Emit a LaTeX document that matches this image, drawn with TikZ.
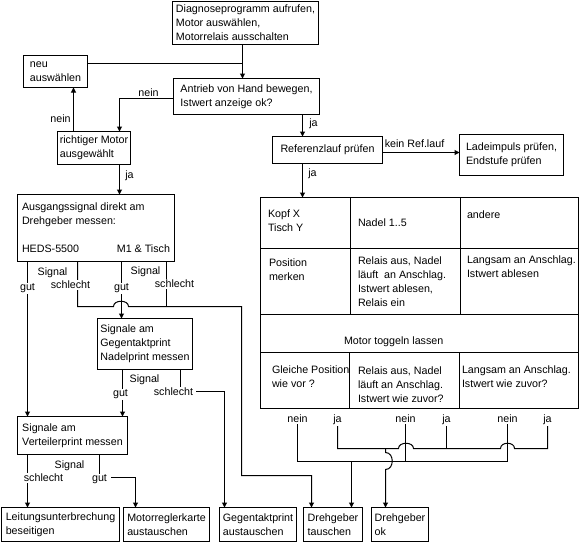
\documentclass[tikz,border=0pt]{standalone}
\usepackage{fontspec}
\setmainfont{Liberation Sans}
\usetikzlibrary{arrows.meta}
\newcommand\ff{\fontsize{10.7}{14}\selectfont}
\newcommand\mkbox[6]{%
  \pgfmathsetmacro\bxw{#4-#2}\pgfmathsetmacro\bxh{#5-#3}%
  \node[box, minimum width=\bxw pt, minimum height=\bxh pt] (#1) at (#2,#3) {#6};}
\tikzset{
  box/.style={draw, align=left, inner sep=0pt, outer sep=0pt, anchor=north west, font=\ff},
  ttxt/.style={align=left, inner sep=0pt, anchor=north west, font=\ff},
  lbl/.style={font=\ff, inner sep=1pt, fill=white, anchor=base},
  arr/.style={-{Triangle[width=5pt,length=5pt]}}
}
\begin{document}
\begin{tikzpicture}[x=1pt,y=-1pt,line width=1pt]
\fill[white] (-0.5,-0.5) rectangle (579.5,542.5);
\useasboundingbox (-0.5,-0.5) rectangle (579.5,542.5);

% boxes
\mkbox{top}{172}{1}{318}{44}{Diagnoseprogramm aufrufen,\\Motor auswählen,\\Motorrelais ausschalten}
\mkbox{neu}{23}{55}{87}{87}{neu\\auswählen}
\mkbox{antrieb}{173}{78}{319}{114}{Antrieb von Hand bewegen,\\Istwert anzeige ok?}
\mkbox{richtig}{57}{131}{130}{164}{richtiger Motor\\ausgewählt}
\mkbox{ausg}{17}{194}{174}{261}{Ausgangssignal direkt am\\Drehgeber messen:\\[14pt]\makebox[148pt]{HEDS-5500\hfill M1 \& Tisch}}
\mkbox{ref}{272}{136}{382}{163}{Referenzlauf prüfen}
\mkbox{lad}{459}{134}{563}{175}{Ladeimpuls prüfen,\\Endstufe prüfen}
\mkbox{gsig}{97}{318}{192}{369}{Signale am\\Gegentaktprint\\Nadelprint messen}
\mkbox{vert}{17}{416}{127}{454}{Signale am\\Verteilerprint messen}
\mkbox{leit}{1}{507}{119}{541}{Leitungsunterbrechung\\beseitigen}
\mkbox{motor}{123}{507}{209}{541}{Motorreglerkarte\\austauschen}
\mkbox{gaus}{219}{507}{296}{541}{Gegentaktprint\\austauschen}
\mkbox{dt}{303}{507}{362}{541}{Drehgeber\\tauschen}
\mkbox{dok}{371}{507}{428}{541}{Drehgeber\\ok}

% table
\node[draw, inner sep=0pt, outer sep=0pt, anchor=north west, minimum width=318pt, minimum height=211pt] (tbl) at (260,197) {};
\draw (260,248) -- (578,248) (260,314) -- (578,314) (260,352) -- (578,352);
\draw (350,197) -- (350,314) (460,197) -- (460,314) (349,352) -- (349,408) (459,352) -- (459,408);
\node[ttxt] (c11) at (267,209) {Kopf X\\Tisch Y};
\node[ttxt] (c12) at (357,218) {Nadel 1..5};
\node[ttxt] (c13) at (466,210) {andere};
\node[ttxt] (c21) at (268,258) {Position\\merken};
\node[ttxt] (c22) at (357,256) {Relais aus, Nadel\\läuft\ \ an Anschlag.\\Istwert ablesen,\\Relais ein};
\node[ttxt] (c23) at (466,255) {Langsam an Anschlag.\\Istwert ablesen};
\node[ttxt] (c3) at (343,336) {Motor toggeln lassen};
\node[ttxt] (c41) at (271,365) {Gleiche Position\\wie vor ?};
\node[ttxt] (c42) at (357,366) {Relais aus, Nadel\\läuft an Anschlag.\\Istwert wie zuvor?};
\node[ttxt] (c43) at (461,365) {Langsam an Anschlag.\\Istwert wie zuvor?};

% connectors
\coordinate (j1) at (242,63);
\draw[arr] ([xshift=70pt]top.south west) -- ([xshift=69pt]antrieb.north west);
\draw ([yshift=-8pt]neu.north east) -- (j1);
\draw[arr] ([yshift=-20pt]antrieb.north west) -| ([xshift=62pt]richtig.north west);
\draw[arr] ([xshift=16pt]richtig.north west) -- ([xshift=50pt]neu.south west);
\draw[arr] ([xshift=62pt]richtig.south west) -- ([xshift=102pt]ausg.north west);
\draw[arr] ([xshift=129pt]antrieb.south west) -- ([xshift=30pt]ref.north west);
\draw[arr] ([yshift=-16pt]ref.north east) -- ([yshift=-18pt]lad.north west);
\draw[arr] ([xshift=30pt]ref.south west) -- ([xshift=42pt]tbl.north west);
\draw[arr] ([xshift=10pt]ausg.south west) -- ([xshift=10pt]vert.north west);
\draw[arr] ([xshift=60pt]ausg.south west) -- (77,306) -- (113,306)
  .. controls (113,299) and (128,299) .. (128,306) -- (241,306) -- (241,475)
  -| ([xshift=8pt]dt.north west);
\draw ([xshift=149pt]ausg.south west) -- (166,306);
\draw[arr] ([xshift=104pt]ausg.south west) -- ([xshift=24pt]gsig.north west);
\draw[arr] ([xshift=25pt]gsig.south west) -- ([xshift=105pt]vert.north west);
\draw[arr] ([xshift=83pt]gsig.south west) -- (180,391) -| ([xshift=5pt]gaus.north west);
\draw[arr] ([xshift=10pt]vert.south west) -- ([xshift=26pt]leit.north west);
\draw[arr] ([xshift=82pt]vert.south west) -- (99,477) -| ([xshift=12pt]motor.north west);

% labels
\node[lbl] (la1) at (148,96) {nein};
\node[lbl] (la2) at (60,122) {nein};
\node[lbl] (la3) at (129,178) {ja};
\node[lbl] (la4) at (313,126) {ja};
\node[lbl] (la5) at (414,147) {kein Ref.lauf};
\node[lbl] (la6) at (312,176) {ja};
\node[lbl] (s1) at (52,275) {Signal};
\node[lbl] (g1) at (27,290) {gut};
\node[lbl] (b1) at (70,288) {schlecht};
\node[lbl] (g2) at (121,290) {gut};
\node[lbl] (s2) at (145,274) {Signal};
\node[lbl] (b2) at (174,287) {schlecht};
\node[lbl] (s3) at (144,382) {Signal};
\node[lbl] (g3) at (120,396) {gut};
\node[lbl, inner xsep=3pt] (b3) at (173,395) {schlecht};
\node[lbl] (s4) at (69,468) {Signal};
\node[lbl] (b4) at (43,481) {schlecht};
\node[lbl, inner xsep=4pt] (g4) at (99,481) {gut};

% bottom decision lines
\node[lbl] (n1) at (297,422) {nein};
\node[lbl] (y1) at (337,422) {ja};
\node[lbl] (n2) at (405,422) {nein};
\node[lbl] (y2) at (446,422) {ja};
\node[lbl] (n3) at (507,422) {nein};
\node[lbl] (y3) at (547,422) {ja};
\draw (y1.south) -- (337,448) -- (398,448) .. controls (398,441) and (413,441) .. (413,448)
  -- (500,448) .. controls (500,441) and (514,441) .. (514,448) -- (547,448) -- (y3.south);
\draw (y2.south) -- (446,448);
\draw (n1.south) -- (297,461) -- (507,461) -- (n3.south);
\draw (n2.south) -- (405,461);
\draw[arr] (351,461) -- ([xshift=48pt]dt.north west);
\draw[arr] (385,448) -- (385,452) .. controls (394,452) and (394,469) .. (385,469)
  -- ([xshift=14pt]dok.north west);
\end{tikzpicture}
\end{document}
